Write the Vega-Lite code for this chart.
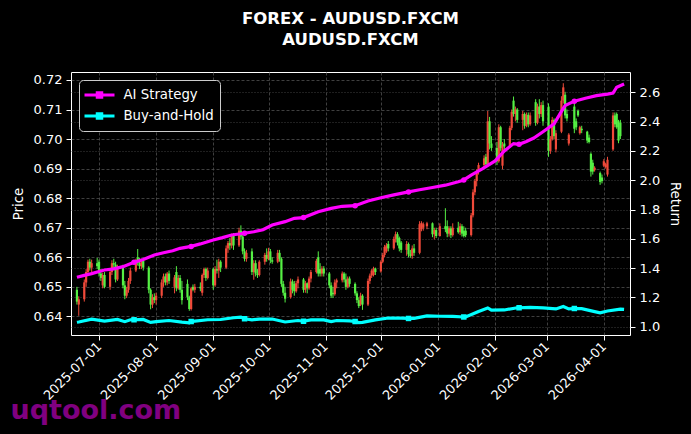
{
  "$schema": "https://vega.github.io/schema/vega-lite/v6.json",
  "width": 559,
  "height": 263,
  "autosize": "none",
  "padding": {"left": 71, "top": 72, "right": 61, "bottom": 99},
  "background": "#000000",
  "config": {
    "font": "DejaVu Sans",
    "view": {"stroke": "#ffffff", "strokeWidth": 1, "fill": "#000000"},
    "axis": {"labelColor": "#ffffff", "titleColor": "#ffffff", "tickColor": "#ffffff", "domain": false, "labelFont": "DejaVu Sans", "titleFont": "DejaVu Sans", "labelFontSize": 13, "titleFontSize": 13.3, "titleFontWeight": "normal", "tickSize": 5, "labelPadding": 4, "gridColor": "#4f4f4f", "gridWidth": 0.8}
  },
  "title": {"text": ["FOREX - AUDUSD.FXCM", "AUDUSD.FXCM"], "color": "#ffffff", "font": "DejaVu Sans", "fontSize": 16.5, "fontWeight": "bold", "anchor": "middle", "offset": 24, "lineHeight": 20.5},
  "datasets": {
    "candles": [
      {"date":"2025-06-19","open":0.6490,"high":0.6500,"low":0.6440,"close":0.6450},
      {"date":"2025-06-20","open":0.6440,"high":0.6468,"low":0.6402,"close":0.6458},
      {"date":"2025-06-23","open":0.6458,"high":0.6525,"low":0.6450,"close":0.6515},
      {"date":"2025-06-24","open":0.6515,"high":0.6560,"low":0.6500,"close":0.6550},
      {"date":"2025-06-25","open":0.6550,"high":0.6592,"low":0.6540,"close":0.6585},
      {"date":"2025-06-26","open":0.6585,"high":0.6595,"low":0.6555,"close":0.6565},
      {"date":"2025-06-27","open":0.6565,"high":0.6592,"low":0.6550,"close":0.6580},
      {"date":"2025-06-30","open":0.6580,"high":0.6598,"low":0.6560,"close":0.6570},
      {"date":"2025-07-01","open":0.6585,"high":0.6592,"low":0.6535,"close":0.6545},
      {"date":"2025-07-02","open":0.6545,"high":0.6560,"low":0.6520,"close":0.6530},
      {"date":"2025-07-03","open":0.6505,"high":0.6548,"low":0.6495,"close":0.6540},
      {"date":"2025-07-04","open":0.6540,"high":0.6550,"low":0.6495,"close":0.6500},
      {"date":"2025-07-07","open":0.6500,"high":0.6560,"low":0.6490,"close":0.6550},
      {"date":"2025-07-08","open":0.6550,"high":0.6590,"low":0.6540,"close":0.6580},
      {"date":"2025-07-09","open":0.6580,"high":0.6595,"low":0.6560,"close":0.6575},
      {"date":"2025-07-10","open":0.6575,"high":0.6585,"low":0.6515,"close":0.6525},
      {"date":"2025-07-11","open":0.6525,"high":0.6575,"low":0.6520,"close":0.6565},
      {"date":"2025-07-14","open":0.6565,"high":0.6575,"low":0.6495,"close":0.6505},
      {"date":"2025-07-15","open":0.6505,"high":0.6520,"low":0.6458,"close":0.6470},
      {"date":"2025-07-16","open":0.6470,"high":0.6500,"low":0.6462,"close":0.6490},
      {"date":"2025-07-17","open":0.6490,"high":0.6530,"low":0.6480,"close":0.6520},
      {"date":"2025-07-18","open":0.6520,"high":0.6565,"low":0.6510,"close":0.6555},
      {"date":"2025-07-21","open":0.6555,"high":0.6595,"low":0.6550,"close":0.6585},
      {"date":"2025-07-22","open":0.6600,"high":0.6628,"low":0.6572,"close":0.6580},
      {"date":"2025-07-23","open":0.6580,"high":0.6598,"low":0.6560,"close":0.6570},
      {"date":"2025-07-24","open":0.6570,"high":0.6595,"low":0.6560,"close":0.6588},
      {"date":"2025-07-25","open":0.6588,"high":0.6592,"low":0.6555,"close":0.6565},
      {"date":"2025-07-28","open":0.6565,"high":0.6570,"low":0.6478,"close":0.6490},
      {"date":"2025-07-29","open":0.6490,"high":0.6495,"low":0.6424,"close":0.6440},
      {"date":"2025-07-30","open":0.6440,"high":0.6475,"low":0.6428,"close":0.6465},
      {"date":"2025-07-31","open":0.6465,"high":0.6478,"low":0.6445,"close":0.6455},
      {"date":"2025-08-01","open":0.6455,"high":0.6480,"low":0.6440,"close":0.6470},
      {"date":"2025-08-04","open":0.6470,"high":0.6525,"low":0.6462,"close":0.6515},
      {"date":"2025-08-05","open":0.6515,"high":0.6545,"low":0.6500,"close":0.6535},
      {"date":"2025-08-06","open":0.6535,"high":0.6545,"low":0.6505,"close":0.6515},
      {"date":"2025-08-07","open":0.6515,"high":0.6550,"low":0.6505,"close":0.6545},
      {"date":"2025-08-08","open":0.6545,"high":0.6555,"low":0.6510,"close":0.6520},
      {"date":"2025-08-11","open":0.6500,"high":0.6540,"low":0.6478,"close":0.6532},
      {"date":"2025-08-12","open":0.6550,"high":0.6570,"low":0.6485,"close":0.6495},
      {"date":"2025-08-13","open":0.6495,"high":0.6540,"low":0.6490,"close":0.6530},
      {"date":"2025-08-14","open":0.6530,"high":0.6540,"low":0.6480,"close":0.6490},
      {"date":"2025-08-15","open":0.6490,"high":0.6520,"low":0.6440,"close":0.6455},
      {"date":"2025-08-18","open":0.6510,"high":0.6525,"low":0.6455,"close":0.6465},
      {"date":"2025-08-19","open":0.6465,"high":0.6470,"low":0.6419,"close":0.6425},
      {"date":"2025-08-20","open":0.6425,"high":0.6500,"low":0.6420,"close":0.6495},
      {"date":"2025-08-21","open":0.6500,"high":0.6508,"low":0.6485,"close":0.6490},
      {"date":"2025-08-22","open":0.6490,"high":0.6510,"low":0.6480,"close":0.6500},
      {"date":"2025-08-25","open":0.6500,"high":0.6515,"low":0.6485,"close":0.6495},
      {"date":"2025-08-26","open":0.6480,"high":0.6545,"low":0.6470,"close":0.6540},
      {"date":"2025-08-27","open":0.6540,"high":0.6565,"low":0.6530,"close":0.6560},
      {"date":"2025-08-28","open":0.6560,"high":0.6565,"low":0.6520,"close":0.6530},
      {"date":"2025-08-29","open":0.6530,"high":0.6565,"low":0.6525,"close":0.6555},
      {"date":"2025-09-01","open":0.6560,"high":0.6565,"low":0.6490,"close":0.6505},
      {"date":"2025-09-02","open":0.6505,"high":0.6570,"low":0.6500,"close":0.6560},
      {"date":"2025-09-03","open":0.6560,"high":0.6592,"low":0.6545,"close":0.6555},
      {"date":"2025-09-04","open":0.6555,"high":0.6595,"low":0.6530,"close":0.6585},
      {"date":"2025-09-05","open":0.6585,"high":0.6590,"low":0.6550,"close":0.6565},
      {"date":"2025-09-08","open":0.6565,"high":0.6640,"low":0.6560,"close":0.6630},
      {"date":"2025-09-09","open":0.6630,"high":0.6655,"low":0.6615,"close":0.6648},
      {"date":"2025-09-10","open":0.6648,"high":0.6665,"low":0.6625,"close":0.6640},
      {"date":"2025-09-11","open":0.6640,"high":0.6680,"low":0.6630,"close":0.6672},
      {"date":"2025-09-12","open":0.6672,"high":0.6682,"low":0.6625,"close":0.6640},
      {"date":"2025-09-15","open":0.6640,"high":0.6700,"low":0.6635,"close":0.6690},
      {"date":"2025-09-16","open":0.6690,"high":0.6708,"low":0.6660,"close":0.6670},
      {"date":"2025-09-17","open":0.6670,"high":0.6675,"low":0.6610,"close":0.6620},
      {"date":"2025-09-18","open":0.6620,"high":0.6630,"low":0.6586,"close":0.6595},
      {"date":"2025-09-19","open":0.6595,"high":0.6625,"low":0.6585,"close":0.6615},
      {"date":"2025-09-22","open":0.6620,"high":0.6630,"low":0.6540,"close":0.6550},
      {"date":"2025-09-23","open":0.6550,"high":0.6590,"low":0.6524,"close":0.6580},
      {"date":"2025-09-24","open":0.6580,"high":0.6590,"low":0.6535,"close":0.6545},
      {"date":"2025-09-25","open":0.6545,"high":0.6560,"low":0.6530,"close":0.6540},
      {"date":"2025-09-26","open":0.6540,"high":0.6590,"low":0.6535,"close":0.6585},
      {"date":"2025-09-29","open":0.6585,"high":0.6615,"low":0.6575,"close":0.6608},
      {"date":"2025-09-30","open":0.6608,"high":0.6630,"low":0.6585,"close":0.6595},
      {"date":"2025-10-01","open":0.6595,"high":0.6632,"low":0.6590,"close":0.6620},
      {"date":"2025-10-02","open":0.6620,"high":0.6628,"low":0.6580,"close":0.6590},
      {"date":"2025-10-03","open":0.6590,"high":0.6600,"low":0.6578,"close":0.6585},
      {"date":"2025-10-06","open":0.6585,"high":0.6625,"low":0.6580,"close":0.6615},
      {"date":"2025-10-07","open":0.6615,"high":0.6625,"low":0.6585,"close":0.6595},
      {"date":"2025-10-08","open":0.6595,"high":0.6600,"low":0.6500,"close":0.6510},
      {"date":"2025-10-09","open":0.6510,"high":0.6520,"low":0.6470,"close":0.6480},
      {"date":"2025-10-10","open":0.6480,"high":0.6500,"low":0.6447,"close":0.6460},
      {"date":"2025-10-13","open":0.6465,"high":0.6528,"low":0.6460,"close":0.6518},
      {"date":"2025-10-14","open":0.6518,"high":0.6525,"low":0.6478,"close":0.6490},
      {"date":"2025-10-15","open":0.6510,"high":0.6520,"low":0.6470,"close":0.6485},
      {"date":"2025-10-16","open":0.6485,"high":0.6520,"low":0.6480,"close":0.6512},
      {"date":"2025-10-17","open":0.6512,"high":0.6535,"low":0.6495,"close":0.6525},
      {"date":"2025-10-20","open":0.6525,"high":0.6530,"low":0.6480,"close":0.6490},
      {"date":"2025-10-21","open":0.6490,"high":0.6520,"low":0.6480,"close":0.6512},
      {"date":"2025-10-22","open":0.6512,"high":0.6515,"low":0.6478,"close":0.6495},
      {"date":"2025-10-23","open":0.6495,"high":0.6535,"low":0.6490,"close":0.6528},
      {"date":"2025-10-24","open":0.6528,"high":0.6557,"low":0.6515,"close":0.6550},
      {"date":"2025-10-27","open":0.6550,"high":0.6595,"low":0.6545,"close":0.6588},
      {"date":"2025-10-28","open":0.6600,"high":0.6620,"low":0.6535,"close":0.6545},
      {"date":"2025-10-29","open":0.6560,"high":0.6580,"low":0.6535,"close":0.6545},
      {"date":"2025-10-30","open":0.6545,"high":0.6570,"low":0.6535,"close":0.6562},
      {"date":"2025-10-31","open":0.6562,"high":0.6570,"low":0.6535,"close":0.6545},
      {"date":"2025-11-03","open":0.6545,"high":0.6550,"low":0.6495,"close":0.6505},
      {"date":"2025-11-04","open":0.6505,"high":0.6515,"low":0.6462,"close":0.6470},
      {"date":"2025-11-05","open":0.6480,"high":0.6500,"low":0.6462,"close":0.6475},
      {"date":"2025-11-06","open":0.6475,"high":0.6525,"low":0.6470,"close":0.6515},
      {"date":"2025-11-07","open":0.6515,"high":0.6528,"low":0.6495,"close":0.6522},
      {"date":"2025-11-10","open":0.6522,"high":0.6552,"low":0.6515,"close":0.6545},
      {"date":"2025-11-11","open":0.6545,"high":0.6550,"low":0.6515,"close":0.6525},
      {"date":"2025-11-12","open":0.6525,"high":0.6545,"low":0.6490,"close":0.6500},
      {"date":"2025-11-13","open":0.6500,"high":0.6535,"low":0.6495,"close":0.6528},
      {"date":"2025-11-14","open":0.6528,"high":0.6535,"low":0.6500,"close":0.6510},
      {"date":"2025-11-17","open":0.6510,"high":0.6515,"low":0.6470,"close":0.6478},
      {"date":"2025-11-18","open":0.6478,"high":0.6485,"low":0.6445,"close":0.6455},
      {"date":"2025-11-19","open":0.6455,"high":0.6465,"low":0.6428,"close":0.6435},
      {"date":"2025-11-20","open":0.6440,"high":0.6480,"low":0.6435,"close":0.6470},
      {"date":"2025-11-21","open":0.6470,"high":0.6475,"low":0.6422,"close":0.6440},
      {"date":"2025-11-24","open":0.6440,"high":0.6528,"low":0.6435,"close":0.6520},
      {"date":"2025-11-25","open":0.6520,"high":0.6545,"low":0.6510,"close":0.6538},
      {"date":"2025-11-26","open":0.6538,"high":0.6560,"low":0.6530,"close":0.6555},
      {"date":"2025-11-27","open":0.6540,"high":0.6568,"low":0.6535,"close":0.6562},
      {"date":"2025-11-28","open":0.6562,"high":0.6565,"low":0.6540,"close":0.6550},
      {"date":"2025-12-01","open":0.6552,"high":0.6590,"low":0.6548,"close":0.6585},
      {"date":"2025-12-02","open":0.6585,"high":0.6615,"low":0.6580,"close":0.6608},
      {"date":"2025-12-03","open":0.6608,"high":0.6642,"low":0.6600,"close":0.6635},
      {"date":"2025-12-04","open":0.6620,"high":0.6648,"low":0.6615,"close":0.6640},
      {"date":"2025-12-05","open":0.6645,"high":0.6655,"low":0.6620,"close":0.6630},
      {"date":"2025-12-08","open":0.6630,"high":0.6670,"low":0.6625,"close":0.6662},
      {"date":"2025-12-09","open":0.6662,"high":0.6687,"low":0.6650,"close":0.6678},
      {"date":"2025-12-10","open":0.6678,"high":0.6685,"low":0.6640,"close":0.6650},
      {"date":"2025-12-11","open":0.6665,"high":0.6670,"low":0.6620,"close":0.6630},
      {"date":"2025-12-12","open":0.6650,"high":0.6655,"low":0.6615,"close":0.6625},
      {"date":"2025-12-15","open":0.6625,"high":0.6655,"low":0.6605,"close":0.6645},
      {"date":"2025-12-16","open":0.6645,"high":0.6650,"low":0.6600,"close":0.6610},
      {"date":"2025-12-17","open":0.6610,"high":0.6625,"low":0.6598,"close":0.6605},
      {"date":"2025-12-18","open":0.6605,"high":0.6640,"low":0.6595,"close":0.6630},
      {"date":"2025-12-19","open":0.6630,"high":0.6645,"low":0.6605,"close":0.6615},
      {"date":"2025-12-22","open":0.6615,"high":0.6722,"low":0.6610,"close":0.6712},
      {"date":"2025-12-23","open":0.6695,"high":0.6722,"low":0.6688,"close":0.6716},
      {"date":"2025-12-24","open":0.6700,"high":0.6718,"low":0.6690,"close":0.6712},
      {"date":"2025-12-26","open":0.6705,"high":0.6720,"low":0.6695,"close":0.6715},
      {"date":"2025-12-29","open":0.6715,"high":0.6718,"low":0.6668,"close":0.6678},
      {"date":"2025-12-30","open":0.6678,"high":0.6700,"low":0.6660,"close":0.6692},
      {"date":"2025-12-31","open":0.6692,"high":0.6700,"low":0.6665,"close":0.6672},
      {"date":"2026-01-02","open":0.6672,"high":0.6715,"low":0.6670,"close":0.6705},
      {"date":"2026-01-05","open":0.6705,"high":0.6766,"low":0.6685,"close":0.6695},
      {"date":"2026-01-06","open":0.6705,"high":0.6725,"low":0.6668,"close":0.6680},
      {"date":"2026-01-07","open":0.6680,"high":0.6705,"low":0.6670,"close":0.6698},
      {"date":"2026-01-08","open":0.6698,"high":0.6705,"low":0.6665,"close":0.6675},
      {"date":"2026-01-09","open":0.6675,"high":0.6715,"low":0.6670,"close":0.6700},
      {"date":"2026-01-12","open":0.6700,"high":0.6720,"low":0.6680,"close":0.6685},
      {"date":"2026-01-13","open":0.6685,"high":0.6715,"low":0.6675,"close":0.6705},
      {"date":"2026-01-14","open":0.6705,"high":0.6712,"low":0.6670,"close":0.6680},
      {"date":"2026-01-15","open":0.6690,"high":0.6705,"low":0.6667,"close":0.6672},
      {"date":"2026-01-16","open":0.6690,"high":0.6700,"low":0.6668,"close":0.6675},
      {"date":"2026-01-19","open":0.6675,"high":0.6750,"low":0.6670,"close":0.6742},
      {"date":"2026-01-20","open":0.6742,"high":0.6830,"low":0.6735,"close":0.6820},
      {"date":"2026-01-21","open":0.6820,"high":0.6865,"low":0.6810,"close":0.6858},
      {"date":"2026-01-22","open":0.6858,"high":0.6898,"low":0.6840,"close":0.6890},
      {"date":"2026-01-23","open":0.6890,"high":0.6920,"low":0.6880,"close":0.6912},
      {"date":"2026-01-26","open":0.6912,"high":0.6945,"low":0.6900,"close":0.6935},
      {"date":"2026-01-27","open":0.6940,"high":0.6950,"low":0.6905,"close":0.6915},
      {"date":"2026-01-28","open":0.6915,"high":0.7095,"low":0.6910,"close":0.7060},
      {"date":"2026-01-29","open":0.7060,"high":0.7075,"low":0.6965,"close":0.6985},
      {"date":"2026-01-30","open":0.6985,"high":0.7010,"low":0.6960,"close":0.6970},
      {"date":"2026-02-02","open":0.6970,"high":0.6990,"low":0.6912,"close":0.6925},
      {"date":"2026-02-03","open":0.6925,"high":0.7050,"low":0.6920,"close":0.7040},
      {"date":"2026-02-04","open":0.7040,"high":0.7045,"low":0.6960,"close":0.6970},
      {"date":"2026-02-05","open":0.6910,"high":0.6990,"low":0.6898,"close":0.6980},
      {"date":"2026-02-06","open":0.6985,"high":0.7000,"low":0.6960,"close":0.6975},
      {"date":"2026-02-09","open":0.6975,"high":0.7045,"low":0.6970,"close":0.7038},
      {"date":"2026-02-10","open":0.7038,"high":0.7100,"low":0.7030,"close":0.7092},
      {"date":"2026-02-11","open":0.7130,"high":0.7144,"low":0.7076,"close":0.7085},
      {"date":"2026-02-12","open":0.7085,"high":0.7110,"low":0.7060,"close":0.7100},
      {"date":"2026-02-13","open":0.7100,"high":0.7105,"low":0.7055,"close":0.7065},
      {"date":"2026-02-16","open":0.7065,"high":0.7095,"low":0.7030,"close":0.7085},
      {"date":"2026-02-17","open":0.7085,"high":0.7090,"low":0.7035,"close":0.7045},
      {"date":"2026-02-18","open":0.7045,"high":0.7090,"low":0.7040,"close":0.7082},
      {"date":"2026-02-19","open":0.7082,"high":0.7090,"low":0.7040,"close":0.7050},
      {"date":"2026-02-20","open":0.7050,"high":0.7090,"low":0.7045,"close":0.7080},
      {"date":"2026-02-23","open":0.7125,"high":0.7135,"low":0.7045,"close":0.7055},
      {"date":"2026-02-24","open":0.7055,"high":0.7120,"low":0.7050,"close":0.7110},
      {"date":"2026-02-25","open":0.7110,"high":0.7135,"low":0.7070,"close":0.7085},
      {"date":"2026-02-26","open":0.7085,"high":0.7125,"low":0.7075,"close":0.7115},
      {"date":"2026-02-27","open":0.7115,"high":0.7130,"low":0.7045,"close":0.7060},
      {"date":"2026-03-02","open":0.7110,"high":0.7121,"low":0.6940,"close":0.6960},
      {"date":"2026-03-03","open":0.6960,"high":0.7010,"low":0.6950,"close":0.7000},
      {"date":"2026-03-04","open":0.7000,"high":0.7075,"low":0.6995,"close":0.7065},
      {"date":"2026-03-05","open":0.7065,"high":0.7070,"low":0.7000,"close":0.7010},
      {"date":"2026-03-06","open":0.6965,"high":0.7030,"low":0.6955,"close":0.7020},
      {"date":"2026-03-09","open":0.7025,"high":0.7145,"low":0.7020,"close":0.7130},
      {"date":"2026-03-10","open":0.7130,"high":0.7189,"low":0.7120,"close":0.7175},
      {"date":"2026-03-11","open":0.7150,"high":0.7160,"low":0.7070,"close":0.7080},
      {"date":"2026-03-12","open":0.7085,"high":0.7100,"low":0.7060,"close":0.7070},
      {"date":"2026-03-13","open":0.6985,"high":0.7020,"low":0.6978,"close":0.7015},
      {"date":"2026-03-16","open":0.7110,"high":0.7122,"low":0.7020,"close":0.7035},
      {"date":"2026-03-17","open":0.7060,"high":0.7070,"low":0.7030,"close":0.7040},
      {"date":"2026-03-18","open":0.7095,"high":0.7100,"low":0.7075,"close":0.7080},
      {"date":"2026-03-19","open":0.7020,"high":0.7045,"low":0.7015,"close":0.7040},
      {"date":"2026-03-20","open":0.7035,"high":0.7045,"low":0.7020,"close":0.7030},
      {"date":"2026-03-23","open":0.7025,"high":0.7028,"low":0.6986,"close":0.6995},
      {"date":"2026-03-24","open":0.7005,"high":0.7015,"low":0.6985,"close":0.6990},
      {"date":"2026-03-25","open":0.6950,"high":0.6955,"low":0.6873,"close":0.6890},
      {"date":"2026-03-26","open":0.6920,"high":0.6930,"low":0.6880,"close":0.6890},
      {"date":"2026-03-27","open":0.6895,"high":0.6908,"low":0.6890,"close":0.6903},
      {"date":"2026-03-30","open":0.6885,"high":0.6890,"low":0.6845,"close":0.6855},
      {"date":"2026-03-31","open":0.6870,"high":0.6880,"low":0.6850,"close":0.6858},
      {"date":"2026-04-01","open":0.6910,"high":0.6932,"low":0.6905,"close":0.6925},
      {"date":"2026-04-02","open":0.6905,"high":0.6920,"low":0.6900,"close":0.6915},
      {"date":"2026-04-03","open":0.6880,"high":0.6940,"low":0.6873,"close":0.6930},
      {"date":"2026-04-06","open":0.6965,"high":0.7090,"low":0.6960,"close":0.7080},
      {"date":"2026-04-07","open":0.7080,"high":0.7090,"low":0.7040,"close":0.7050},
      {"date":"2026-04-08","open":0.7085,"high":0.7090,"low":0.7035,"close":0.7040},
      {"date":"2026-04-09","open":0.7060,"high":0.7065,"low":0.6986,"close":0.6995},
      {"date":"2026-04-10","open":0.7055,"high":0.7065,"low":0.7000,"close":0.7010}
    ],
    "lines": [
      {"date":"2025-06-19","series":"AI Strategy","value":1.337,"mk":0},
      {"date":"2025-06-23","series":"AI Strategy","value":1.350,"mk":0},
      {"date":"2025-06-27","series":"AI Strategy","value":1.362,"mk":0},
      {"date":"2025-07-01","series":"AI Strategy","value":1.377,"mk":0},
      {"date":"2025-07-04","series":"AI Strategy","value":1.387,"mk":0},
      {"date":"2025-07-09","series":"AI Strategy","value":1.395,"mk":0},
      {"date":"2025-07-14","series":"AI Strategy","value":1.410,"mk":0},
      {"date":"2025-07-20","series":"AI Strategy","value":1.440,"mk":1},
      {"date":"2025-07-25","series":"AI Strategy","value":1.458,"mk":0},
      {"date":"2025-07-31","series":"AI Strategy","value":1.489,"mk":0},
      {"date":"2025-08-05","series":"AI Strategy","value":1.505,"mk":0},
      {"date":"2025-08-10","series":"AI Strategy","value":1.518,"mk":0},
      {"date":"2025-08-14","series":"AI Strategy","value":1.535,"mk":0},
      {"date":"2025-08-20","series":"AI Strategy","value":1.548,"mk":1},
      {"date":"2025-08-25","series":"AI Strategy","value":1.565,"mk":0},
      {"date":"2025-09-01","series":"AI Strategy","value":1.592,"mk":0},
      {"date":"2025-09-06","series":"AI Strategy","value":1.608,"mk":0},
      {"date":"2025-09-11","series":"AI Strategy","value":1.626,"mk":0},
      {"date":"2025-09-18","series":"AI Strategy","value":1.638,"mk":1},
      {"date":"2025-09-23","series":"AI Strategy","value":1.648,"mk":0},
      {"date":"2025-09-28","series":"AI Strategy","value":1.662,"mk":0},
      {"date":"2025-10-03","series":"AI Strategy","value":1.694,"mk":0},
      {"date":"2025-10-10","series":"AI Strategy","value":1.717,"mk":0},
      {"date":"2025-10-15","series":"AI Strategy","value":1.740,"mk":0},
      {"date":"2025-10-20","series":"AI Strategy","value":1.745,"mk":1},
      {"date":"2025-10-28","series":"AI Strategy","value":1.785,"mk":0},
      {"date":"2025-11-04","series":"AI Strategy","value":1.808,"mk":0},
      {"date":"2025-11-10","series":"AI Strategy","value":1.822,"mk":0},
      {"date":"2025-11-17","series":"AI Strategy","value":1.826,"mk":1},
      {"date":"2025-11-24","series":"AI Strategy","value":1.858,"mk":0},
      {"date":"2025-12-01","series":"AI Strategy","value":1.880,"mk":0},
      {"date":"2025-12-08","series":"AI Strategy","value":1.900,"mk":0},
      {"date":"2025-12-16","series":"AI Strategy","value":1.920,"mk":1},
      {"date":"2025-12-22","series":"AI Strategy","value":1.935,"mk":0},
      {"date":"2025-12-29","series":"AI Strategy","value":1.950,"mk":0},
      {"date":"2026-01-05","series":"AI Strategy","value":1.966,"mk":0},
      {"date":"2026-01-12","series":"AI Strategy","value":1.990,"mk":0},
      {"date":"2026-01-15","series":"AI Strategy","value":2.002,"mk":1},
      {"date":"2026-01-19","series":"AI Strategy","value":2.035,"mk":0},
      {"date":"2026-01-25","series":"AI Strategy","value":2.078,"mk":0},
      {"date":"2026-02-01","series":"AI Strategy","value":2.132,"mk":0},
      {"date":"2026-02-06","series":"AI Strategy","value":2.200,"mk":0},
      {"date":"2026-02-11","series":"AI Strategy","value":2.250,"mk":0},
      {"date":"2026-02-14","series":"AI Strategy","value":2.245,"mk":1},
      {"date":"2026-02-18","series":"AI Strategy","value":2.265,"mk":0},
      {"date":"2026-02-22","series":"AI Strategy","value":2.288,"mk":0},
      {"date":"2026-02-27","series":"AI Strategy","value":2.331,"mk":0},
      {"date":"2026-03-05","series":"AI Strategy","value":2.385,"mk":0},
      {"date":"2026-03-09","series":"AI Strategy","value":2.470,"mk":0},
      {"date":"2026-03-11","series":"AI Strategy","value":2.510,"mk":0},
      {"date":"2026-03-16","series":"AI Strategy","value":2.540,"mk":1},
      {"date":"2026-03-22","series":"AI Strategy","value":2.560,"mk":0},
      {"date":"2026-03-28","series":"AI Strategy","value":2.578,"mk":0},
      {"date":"2026-04-03","series":"AI Strategy","value":2.588,"mk":0},
      {"date":"2026-04-06","series":"AI Strategy","value":2.595,"mk":0},
      {"date":"2026-04-08","series":"AI Strategy","value":2.635,"mk":0},
      {"date":"2026-04-12","series":"AI Strategy","value":2.657,"mk":0},
      {"date":"2025-06-19","series":"Buy-and-Hold","value":1.030,"mk":0},
      {"date":"2025-06-20","series":"Buy-and-Hold","value":1.032,"mk":0},
      {"date":"2025-06-27","series":"Buy-and-Hold","value":1.051,"mk":0},
      {"date":"2025-07-04","series":"Buy-and-Hold","value":1.038,"mk":0},
      {"date":"2025-07-11","series":"Buy-and-Hold","value":1.049,"mk":0},
      {"date":"2025-07-15","series":"Buy-and-Hold","value":1.034,"mk":0},
      {"date":"2025-07-18","series":"Buy-and-Hold","value":1.047,"mk":0},
      {"date":"2025-07-20","series":"Buy-and-Hold","value":1.047,"mk":1},
      {"date":"2025-07-25","series":"Buy-and-Hold","value":1.049,"mk":0},
      {"date":"2025-07-29","series":"Buy-and-Hold","value":1.029,"mk":0},
      {"date":"2025-08-01","series":"Buy-and-Hold","value":1.034,"mk":0},
      {"date":"2025-08-08","series":"Buy-and-Hold","value":1.042,"mk":0},
      {"date":"2025-08-15","series":"Buy-and-Hold","value":1.031,"mk":0},
      {"date":"2025-08-19","series":"Buy-and-Hold","value":1.026,"mk":0},
      {"date":"2025-08-20","series":"Buy-and-Hold","value":1.035,"mk":1},
      {"date":"2025-08-22","series":"Buy-and-Hold","value":1.038,"mk":0},
      {"date":"2025-08-29","series":"Buy-and-Hold","value":1.047,"mk":0},
      {"date":"2025-09-05","series":"Buy-and-Hold","value":1.049,"mk":0},
      {"date":"2025-09-12","series":"Buy-and-Hold","value":1.061,"mk":0},
      {"date":"2025-09-16","series":"Buy-and-Hold","value":1.065,"mk":0},
      {"date":"2025-09-18","series":"Buy-and-Hold","value":1.054,"mk":1},
      {"date":"2025-09-22","series":"Buy-and-Hold","value":1.046,"mk":0},
      {"date":"2025-09-26","series":"Buy-and-Hold","value":1.052,"mk":0},
      {"date":"2025-10-03","series":"Buy-and-Hold","value":1.052,"mk":0},
      {"date":"2025-10-10","series":"Buy-and-Hold","value":1.032,"mk":0},
      {"date":"2025-10-17","series":"Buy-and-Hold","value":1.042,"mk":0},
      {"date":"2025-10-20","series":"Buy-and-Hold","value":1.037,"mk":1},
      {"date":"2025-10-24","series":"Buy-and-Hold","value":1.046,"mk":0},
      {"date":"2025-10-31","series":"Buy-and-Hold","value":1.046,"mk":0},
      {"date":"2025-11-04","series":"Buy-and-Hold","value":1.034,"mk":0},
      {"date":"2025-11-07","series":"Buy-and-Hold","value":1.042,"mk":0},
      {"date":"2025-11-14","series":"Buy-and-Hold","value":1.040,"mk":0},
      {"date":"2025-11-17","series":"Buy-and-Hold","value":1.035,"mk":1},
      {"date":"2025-11-19","series":"Buy-and-Hold","value":1.028,"mk":0},
      {"date":"2025-11-21","series":"Buy-and-Hold","value":1.029,"mk":0},
      {"date":"2025-11-28","series":"Buy-and-Hold","value":1.046,"mk":0},
      {"date":"2025-12-05","series":"Buy-and-Hold","value":1.059,"mk":0},
      {"date":"2025-12-12","series":"Buy-and-Hold","value":1.058,"mk":0},
      {"date":"2025-12-16","series":"Buy-and-Hold","value":1.056,"mk":1},
      {"date":"2025-12-19","series":"Buy-and-Hold","value":1.057,"mk":0},
      {"date":"2025-12-26","series":"Buy-and-Hold","value":1.073,"mk":0},
      {"date":"2026-01-02","series":"Buy-and-Hold","value":1.071,"mk":0},
      {"date":"2026-01-09","series":"Buy-and-Hold","value":1.070,"mk":0},
      {"date":"2026-01-15","series":"Buy-and-Hold","value":1.066,"mk":1},
      {"date":"2026-01-16","series":"Buy-and-Hold","value":1.066,"mk":0},
      {"date":"2026-01-23","series":"Buy-and-Hold","value":1.104,"mk":0},
      {"date":"2026-01-28","series":"Buy-and-Hold","value":1.128,"mk":0},
      {"date":"2026-01-30","series":"Buy-and-Hold","value":1.113,"mk":0},
      {"date":"2026-02-06","series":"Buy-and-Hold","value":1.114,"mk":0},
      {"date":"2026-02-13","series":"Buy-and-Hold","value":1.129,"mk":0},
      {"date":"2026-02-14","series":"Buy-and-Hold","value":1.129,"mk":1},
      {"date":"2026-02-20","series":"Buy-and-Hold","value":1.131,"mk":0},
      {"date":"2026-02-27","series":"Buy-and-Hold","value":1.128,"mk":0},
      {"date":"2026-03-06","series":"Buy-and-Hold","value":1.121,"mk":0},
      {"date":"2026-03-10","series":"Buy-and-Hold","value":1.138,"mk":0},
      {"date":"2026-03-13","series":"Buy-and-Hold","value":1.121,"mk":0},
      {"date":"2026-03-16","series":"Buy-and-Hold","value":1.124,"mk":1},
      {"date":"2026-03-20","series":"Buy-and-Hold","value":1.123,"mk":0},
      {"date":"2026-03-27","series":"Buy-and-Hold","value":1.103,"mk":0},
      {"date":"2026-03-30","series":"Buy-and-Hold","value":1.095,"mk":0},
      {"date":"2026-04-03","series":"Buy-and-Hold","value":1.107,"mk":0},
      {"date":"2026-04-10","series":"Buy-and-Hold","value":1.120,"mk":0},
      {"date":"2026-04-12","series":"Buy-and-Hold","value":1.118,"mk":0}
    ]
  },
  "encoding": {
    "x": {
      "field": "date", "type": "temporal",
      "scale": {"type": "utc", "domain": [{"year": 2025, "month": 6, "date": 18, "hours": 12, "utc": true}, {"year": 2026, "month": 4, "date": 12, "hours": 12, "utc": true}]},
      "axis": {
        "title": "uqtool.com", "titleColor": "#800080", "titleFontSize": 27, "titleFontWeight": "bold", "titleFont": "DejaVu Sans",
        "titleAnchor": "start", "titleAlign": "left", "titleBaseline": "alphabetic", "titleX": -61, "titleY": 83,
        "values": [
          {"year": 2025, "month": 7, "date": 1, "utc": true},
          {"year": 2025, "month": 8, "date": 1, "utc": true},
          {"year": 2025, "month": 9, "date": 1, "utc": true},
          {"year": 2025, "month": 10, "date": 1, "utc": true},
          {"year": 2025, "month": 11, "date": 1, "utc": true},
          {"year": 2025, "month": 12, "date": 1, "utc": true},
          {"year": 2026, "month": 1, "date": 1, "utc": true},
          {"year": 2026, "month": 2, "date": 1, "utc": true},
          {"year": 2026, "month": 3, "date": 1, "utc": true},
          {"year": 2026, "month": 4, "date": 1, "utc": true}
        ],
        "format": "%Y-%m-%d", "labelAngle": -45, "labelAlign": "right", "labelBaseline": "middle",
        "labelOverlap": false, "labelBound": false, "labelFlush": false,
        "grid": true, "gridDash": [3, 2]
      }
    }
  },
  "layer": [
    {
      "data": {"name": "candles"},
      "encoding": {
        "y": {"field": "low", "type": "quantitative",
          "scale": {"domain": [0.6337, 0.7227], "zero": false, "nice": false},
          "axis": {"orient": "left", "title": "Price", "titlePadding": 8, "values": [0.64, 0.65, 0.66, 0.67, 0.68, 0.69, 0.70, 0.71, 0.72], "format": ".2f", "grid": true, "gridDash": [3, 2]}},
        "color": {"condition": {"test": "datum.close >= datum.open", "value": "#f04a3a"}, "value": "#55f044"}
      },
      "layer": [
        {"mark": {"type": "rule", "strokeWidth": 1, "clip": true}, "encoding": {"y2": {"field": "high"}}},
        {"mark": {"type": "bar", "size": 2.2, "clip": true}, "encoding": {"y": {"field": "open", "type": "quantitative"}, "y2": {"field": "close"}}}
      ]
    },
    {
      "data": {"name": "lines"},
      "encoding": {
        "y": {"field": "value", "type": "quantitative",
          "scale": {"domain": [0.943, 2.739], "zero": false, "nice": false},
          "axis": {"orient": "right", "title": "Return", "titlePadding": 8, "values": [1.0, 1.2, 1.4, 1.6, 1.8, 2.0, 2.2, 2.4, 2.6], "format": ".1f", "grid": true, "gridDash": [1, 2]}},
        "color": {"field": "series", "type": "nominal",
          "scale": {"domain": ["AI Strategy", "Buy-and-Hold"], "range": ["#ff00ff", "#00ffff"]},
          "legend": {"title": null, "orient": "top-left", "offset": 8, "fillColor": "#000000", "strokeColor": "#cccccc", "cornerRadius": 4, "padding": 6, "labelColor": "#ffffff", "labelFontSize": 13.3, "labelFont": "DejaVu Sans", "symbolType": "M-2,0H2M-0.3,-0.3H0.3V0.3H-0.3Z", "symbolStrokeWidth": 3, "symbolSize": 225, "symbolOffset": 5.5, "rowPadding": 3, "labelOffset": 15}}
      },
      "layer": [
        {"mark": {"type": "line", "strokeWidth": 3.2, "clip": true}},
        {"transform": [{"filter": "datum.mk == 1 && datum.series == 'AI Strategy'"}], "mark": {"type": "point", "shape": "circle", "filled": true, "size": 30, "opacity": 1, "clip": true}},
        {"transform": [{"filter": "datum.mk == 1 && datum.series == 'Buy-and-Hold'"}], "mark": {"type": "point", "shape": "square", "filled": true, "size": 30, "opacity": 1, "clip": true}}
      ]
    }
  ],
  "resolve": {"scale": {"y": "independent"}, "axis": {"y": "independent"}}
}
